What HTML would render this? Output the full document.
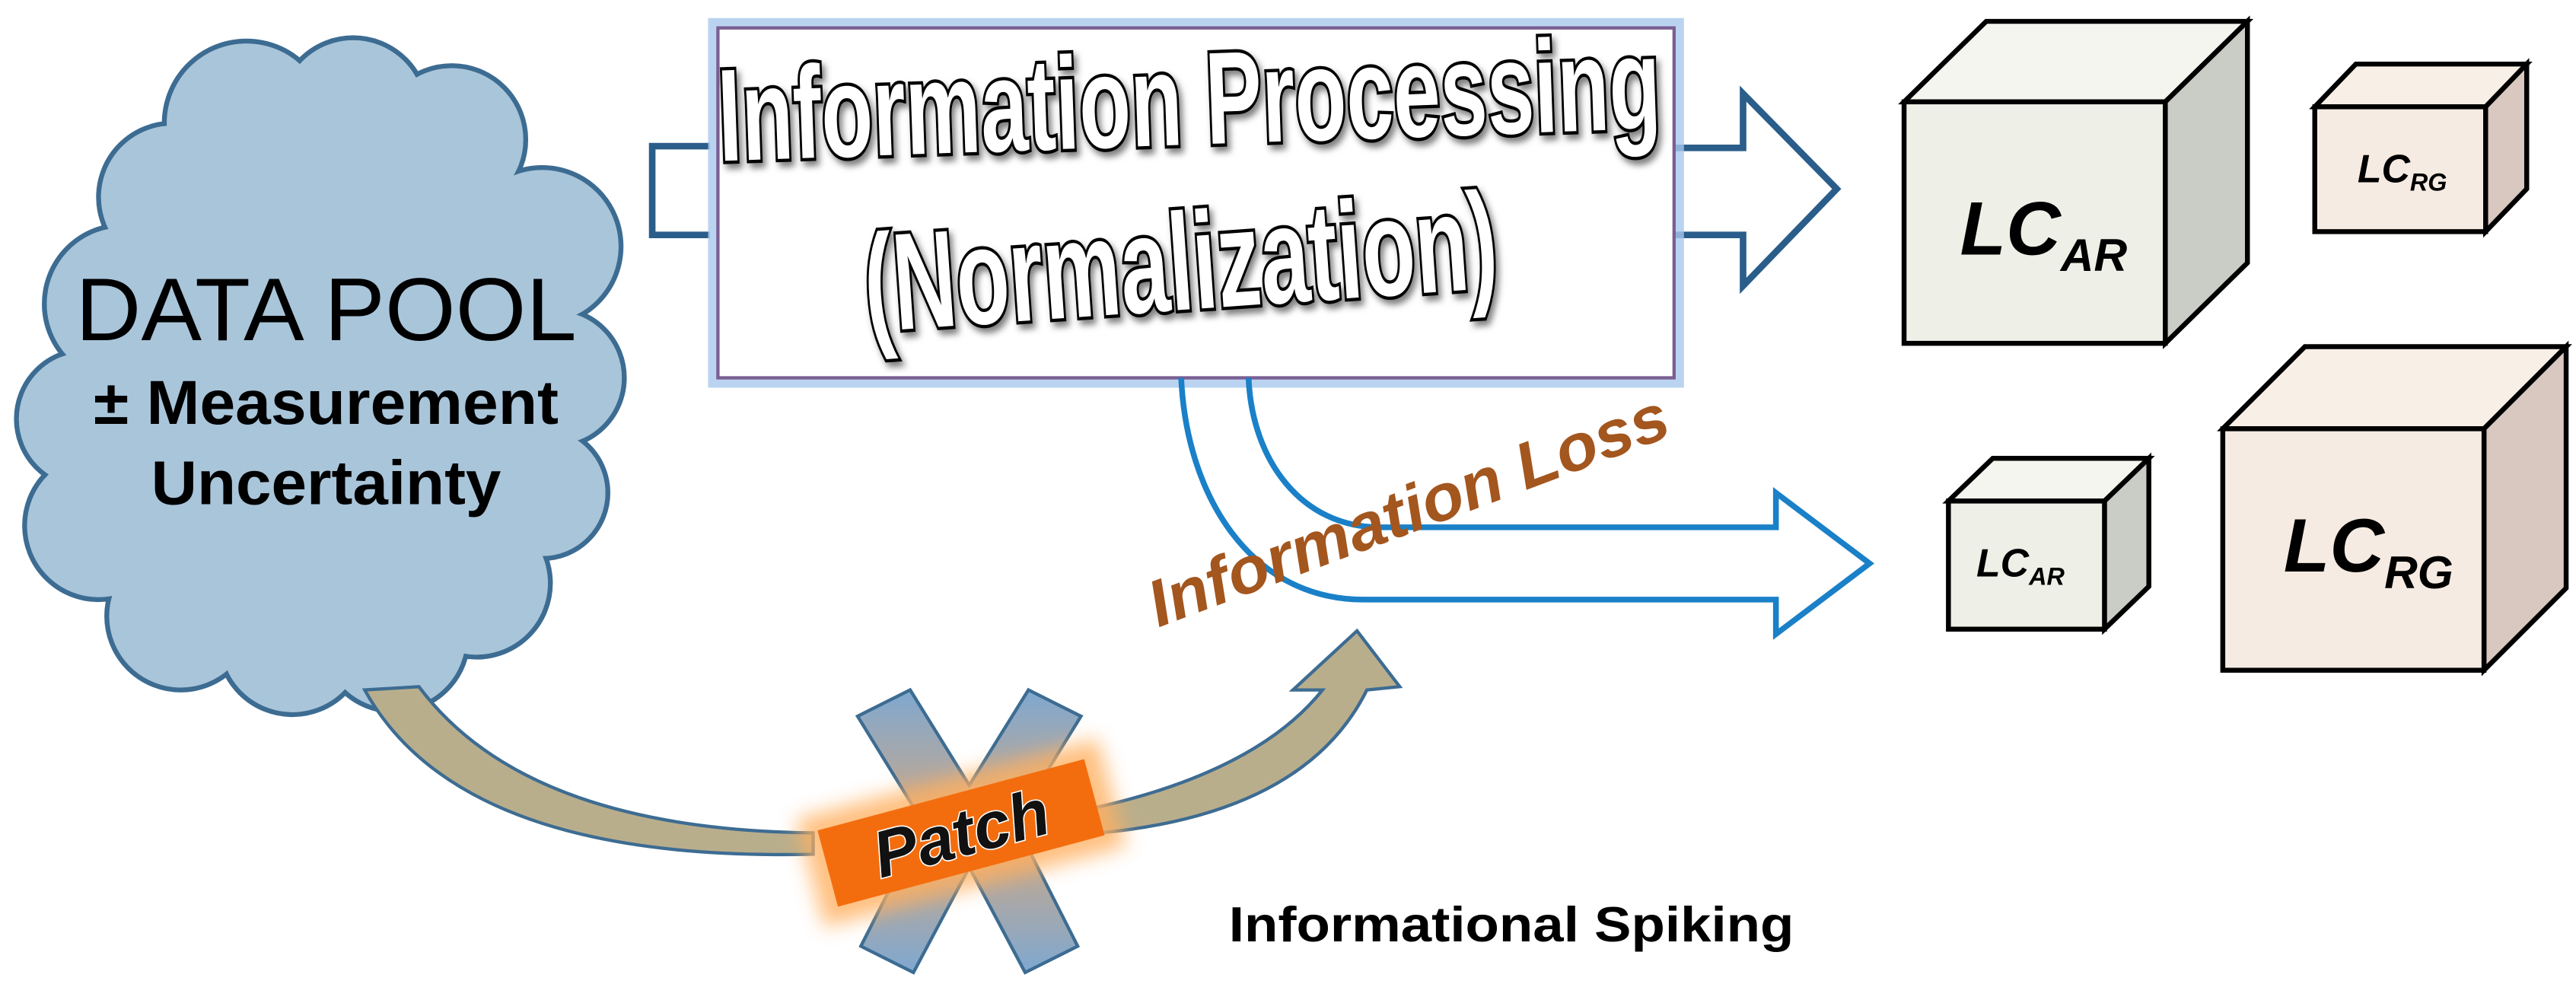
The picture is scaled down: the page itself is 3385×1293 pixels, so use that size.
<!DOCTYPE html>
<html><head><meta charset="utf-8"><style>
html,body{margin:0;padding:0;background:#fff;}
svg{display:block;}
</style></head><body>
<svg width="3385" height="1293" viewBox="0 0 1568 599" preserveAspectRatio="none" xmlns="http://www.w3.org/2000/svg">
<defs>
<filter id="glow" x="-30%" y="-30%" width="160%" height="160%"><feGaussianBlur stdDeviation="6"/></filter>
<filter id="sh" x="-5%" y="-5%" width="110%" height="120%"><feDropShadow dx="2" dy="3" stdDeviation="2" flood-color="#000" flood-opacity="0.5"/></filter>
<linearGradient id="xg" x1="0" y1="0" x2="0" y2="1"><stop offset="0" stop-color="#7fa8d0"/><stop offset="0.45" stop-color="#c9a88a"/><stop offset="0.55" stop-color="#c9a88a"/><stop offset="1" stop-color="#7fa8d0"/></linearGradient>
</defs>

<!-- Cloud -->
<g fill="#a9c5da" stroke="#3d6c92" stroke-width="3">
<circle cx="150" cy="75" r="50"/><circle cx="215" cy="68" r="45"/><circle cx="275" cy="85" r="45"/>
<circle cx="330" cy="150" r="48"/><circle cx="338" cy="230" r="42"/><circle cx="330" cy="300" r="40"/>
<circle cx="290" cy="355" r="45"/><circle cx="240" cy="388" r="45"/><circle cx="178" cy="390" r="45"/>
<circle cx="110" cy="375" r="45"/><circle cx="60" cy="320" r="45"/><circle cx="52" cy="255" r="42"/>
<circle cx="75" cy="185" r="48"/><circle cx="105" cy="120" r="45"/>
</g>
<g fill="#a9c5da">
<circle cx="150" cy="75" r="48.5"/><circle cx="215" cy="68" r="43.5"/><circle cx="275" cy="85" r="43.5"/>
<circle cx="330" cy="150" r="46.5"/><circle cx="338" cy="230" r="40.5"/><circle cx="330" cy="300" r="38.5"/>
<circle cx="290" cy="355" r="43.5"/><circle cx="240" cy="388" r="43.5"/><circle cx="178" cy="390" r="43.5"/>
<circle cx="110" cy="375" r="43.5"/><circle cx="60" cy="320" r="43.5"/><circle cx="52" cy="255" r="40.5"/>
<circle cx="75" cy="185" r="46.5"/><circle cx="105" cy="120" r="43.5"/>
<ellipse cx="195" cy="230" rx="145" ry="160"/>
</g>
<g font-family="Liberation Sans, sans-serif" fill="#000">
<text x="46" y="207" font-size="54" textLength="305" lengthAdjust="spacingAndGlyphs">DATA POOL</text>
<text x="57" y="258" font-size="38" font-weight="bold" textLength="283" lengthAdjust="spacingAndGlyphs">± Measurement</text>
<text x="92" y="307" font-size="38" font-weight="bold" textLength="213" lengthAdjust="spacingAndGlyphs">Uncertainty</text>
</g>

<!-- Tan curved arrow -->
<path d="M 255 418 Q 320 505 495 507 L 495 520 Q 280 525 222 420 Z" fill="#b9ae8c" stroke="#3d6c92" stroke-width="2"/>
<path d="M 665 492 Q 765 470 805 420 L 787 420 L 826 384 L 852 418 L 832 420 Q 795 495 670 507 Z" fill="#b9ae8c" stroke="#3d6c92" stroke-width="2"/>

<!-- Patch X -->
<g transform="translate(590 506)">
<path d="M -68 -70 L -36 -86 L 0 -28 L 36 -86 L 68 -70 L 28 -5 L 66 70 L 34 86 L 0 22 L -34 86 L -66 70 L -28 -5 Z" fill="url(#xg)" stroke="#3d6c92" stroke-width="2"/>
</g>
<g transform="translate(585 507) rotate(-15)">
<rect x="-95" y="-34" width="190" height="68" fill="#ffb060" opacity="0.8" filter="url(#glow)"/>
<rect x="-84" y="-24" width="168" height="48" fill="#f36d0f"/>
<text x="0" y="14" text-anchor="middle" font-family="Liberation Sans, sans-serif" font-size="40" font-weight="bold" font-style="italic" fill="#111" stroke="#fff" stroke-width="1.5" paint-order="stroke">Patch</text>
</g>

<!-- Left bracket & right arrow -->
<path d="M 432 89 L 397 89 L 397 143 L 432 143" fill="none" stroke="#2a5d8a" stroke-width="4"/>
<path d="M 1018 90 L 1061 90 L 1061 57 L 1118 115 L 1061 174 L 1061 143 L 1018 143" fill="none" stroke="#2a5d8a" stroke-width="4" stroke-linejoin="miter"/>

<!-- Main box -->
<rect x="434" y="14" width="588" height="219" fill="none" stroke="#a9c8ee" stroke-width="6" opacity="0.8"/>
<rect x="437" y="17" width="582" height="213" fill="#fff" stroke="#7a5e92" stroke-width="2"/>
<g font-family="Liberation Sans, sans-serif" font-weight="bold" fill="#fff" stroke="#000" stroke-width="4" paint-order="stroke" filter="url(#sh)">
<text x="438" y="98" font-size="80" textLength="574" lengthAdjust="spacingAndGlyphs" transform="rotate(-2 438 98)">Information Processing</text>
<text x="528" y="202" font-size="84" textLength="386" lengthAdjust="spacingAndGlyphs" transform="rotate(-4 528 202)">(Normalization)</text>
</g>

<!-- Blue lower arrow -->
<path d="M 719 230 C 722 300 760 365 830 365 L 1081 365 L 1081 386 L 1138 343 L 1081 300 L 1081 321 L 840 321 C 792 321 762 280 760 230" fill="none" stroke="#1a80c8" stroke-width="3.5"/>

<!-- Information Loss -->
<text x="705" y="382" transform="rotate(-20.5 705 382)" font-family="Liberation Sans, sans-serif" font-size="40" font-weight="bold" font-style="italic" fill="#a3561e" textLength="335" lengthAdjust="spacingAndGlyphs">Information Loss</text>

<text x="748" y="573" font-family="Liberation Sans, sans-serif" font-size="30" font-weight="bold" fill="#000" textLength="344" lengthAdjust="spacingAndGlyphs">Informational Spiking</text>

<!-- Cubes -->
<g stroke="#000" stroke-width="3" stroke-linejoin="miter">
<polygon points="1159,62 1209,13 1368,13 1318,62" fill="#f3f5ee"/>
<polygon points="1318,62 1368,13 1368,160 1318,209" fill="#c9cdc6"/>
<rect x="1159" y="62" width="159" height="147" fill="#eef0e7"/>
<polygon points="1409,65 1434,39 1538,39 1513,65" fill="#f8efe7"/>
<polygon points="1513,65 1538,39 1538,115 1513,141" fill="#d8c8c0"/>
<rect x="1409" y="65" width="104" height="76" fill="#f5ebe2"/>
<polygon points="1186,305 1213,279 1308,279 1281,305" fill="#f3f5ee"/>
<polygon points="1281,305 1308,279 1308,357 1281,383" fill="#c9cdc6"/>
<rect x="1186" y="305" width="95" height="78" fill="#eef0e7"/>
<polygon points="1353,261 1403,211 1562,211 1512,261" fill="#f8efe7"/>
<polygon points="1512,261 1562,211 1562,358 1512,408" fill="#d8c8c0"/>
<rect x="1353" y="261" width="159" height="147" fill="#f5ebe2"/>
</g>
<g font-family="Liberation Sans, sans-serif" font-weight="bold" font-style="italic" fill="#000">
<text x="1193" y="155" font-size="46">LC<tspan font-size="28" dy="10">AR</tspan></text>
<text x="1435" y="111" font-size="24">LC<tspan font-size="15" dy="5">RG</tspan></text>
<text x="1203" y="351" font-size="24">LC<tspan font-size="15" dy="5">AR</tspan></text>
<text x="1390" y="348" font-size="46">LC<tspan font-size="28" dy="10">RG</tspan></text>
</g>
</svg>
</body></html>
